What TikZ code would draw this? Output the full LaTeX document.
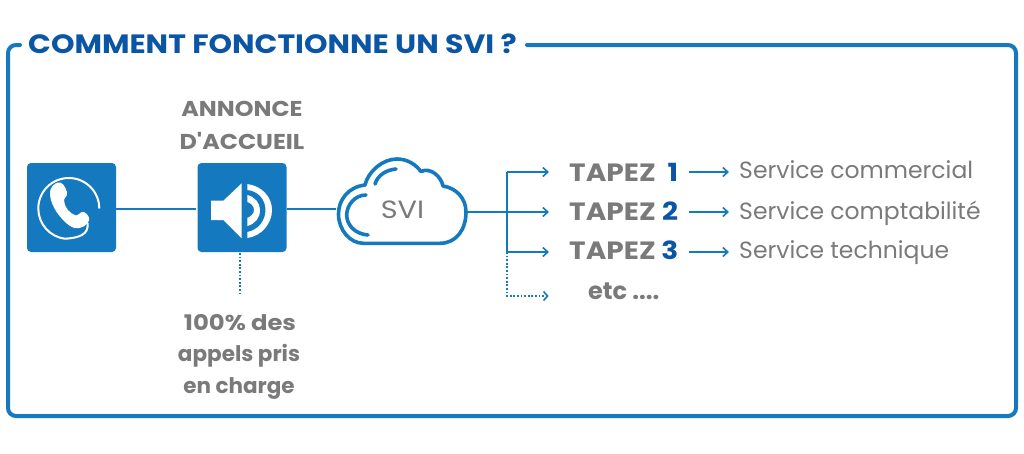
\documentclass[tikz,border=0pt]{standalone}
\usepackage{fontspec}
\setmainfont{Poppins}[Ligatures=TeXOff]
\usetikzlibrary{arrows.meta}
\definecolor{bl}{HTML}{1479BF}
\definecolor{tb}{HTML}{0B55A5}
\definecolor{gr}{HTML}{7A7A7A}
\newcommand{\wid}[1]{\addfontfeature{FakeStretch=#1}}
\newcommand{\tapline}[1]{\makebox[92pt][l]{\wid{1.12}TAPEZ}\makebox[17pt][r]{\textcolor{tb}{\wid{1.12}#1}}}
\tikzset{
 x=1pt,y=-1pt,
 conn/.style={bl,line width=2.2pt},
 arr/.style={conn,-{Straight Barb[length=5pt,width=9pt,line width=1.6pt]}},
 dot/.style={bl,line width=1.8pt,dash pattern=on 1.8pt off 1.8pt},
 iconbox/.style={fill=bl,rounded corners=4pt,minimum width=89pt,minimum height=89pt,inner sep=0pt,outer sep=0pt,draw=none},
 lab/.style={anchor=base,gr,font=\fontsize{21.5}{24}\selectfont\bfseries,inner sep=0pt},
 tap/.style={anchor=base west,gr,font=\fontsize{25}{26}\selectfont\bfseries,inner sep=0pt},
 svc/.style={anchor=base west,gr,font=\fontsize{23.5}{26}\selectfont,inner sep=0pt},
}
\begin{document}
\begin{tikzpicture}
\useasboundingbox (0,0) rectangle (1024,453);
\fill[white] (0,0) rectangle (1024,453);
% frame
\draw[bl,line width=4pt,rounded corners=8pt,line cap=round] (527,45) -- (1016,45) -- (1016,416) -- (8,416) -- (8,45) -- (20,45);
\node[anchor=base west,tb,inner sep=0pt,font=\fontsize{26.5}{28}\selectfont\bfseries] (title) at (28,53) {\wid{1.13}COMMENT FONCTIONNE UN SVI ?};
% boxes
\node[iconbox] (phone) at (71.5,207.5) {};
\node[iconbox] (spk) at (242,207.5) {};
% phone icon
\draw[white,line width=2pt] (99.3,208.5) arc[start angle=0,end angle=-262,x radius=30.5pt,y radius=-30.5pt] .. controls (80,238) and (89,234) .. (87.5,223);
\fill[white] (50,195) .. controls (49.5,186) and (55,183.5) .. (58,182.5) .. controls (62,181.5) and (65,186) .. (67,192) .. controls (68,196) and (64,198) .. (64,200)
 .. controls (64,207) and (70,214) .. (76,215.5) .. controls (79,215) and (81,211) .. (84,212) .. controls (88,214) and (91,219) .. (88,222.5)
 .. controls (83,229) and (75,230) .. (70,226) .. controls (60,219) and (51,206) .. (50,195) -- cycle;
% speaker icon
\fill[white] (211,200.7) -- (223.3,200.7) -- (241.7,183.3) -- (241.7,238.3) -- (223.3,220) -- (211,220) -- cycle;
\fill[white] (247.3,184) .. controls (262,186) and (272,197) .. (272,210) .. controls (272,223) and (262,236) .. (247.3,238) -- (247.3,232) .. controls (258,230) and (265.5,221) .. (265.5,210) .. controls (265.5,199) and (258,191) .. (247.3,190) -- cycle;
\fill[white] (247.3,195) .. controls (255,197) and (260,203) .. (260,210) .. controls (260,218) and (255,224) .. (247.3,226) -- (247.3,218) .. controls (251,216) and (254,214) .. (254,210) .. controls (254,206) and (251,203) .. (247.3,202) -- cycle;
% cloud
\node[inner sep=0pt,minimum width=130pt,minimum height=86pt] (cloud) at (402,205) {};
\draw[bl,line width=3.6pt,line join=round] (363.3,243.3) -- (440,243.3) .. controls (456,243.3) and (466,230) .. (466,212) .. controls (466,198) and (456,188) .. (443,186)
 .. controls (441,176) and (430,167) .. (421,171.5) .. controls (413,161) and (403,159) .. (397,159) .. controls (382,159) and (368,172) .. (365,185)
 .. controls (348,187) and (338.5,200) .. (338.5,214) .. controls (338.5,230) and (350,243.3) .. (363.3,243.3) -- cycle;
\draw[bl,line width=3.6pt,line cap=round] (366,195) .. controls (355,195) and (346.7,205) .. (346.7,215) .. controls (346.7,225) and (355,234) .. (368,235);
\draw[bl,line width=3.6pt,line cap=round] (375,184) .. controls (378,175) and (386,170) .. (396,169);
\node[anchor=base,gr,inner sep=0pt,font=\fontsize{25}{28}\selectfont] (svi) at (402.5,218) {\wid{1.15}SVI};
% labels
\node[lab] (a1) at (242,116) {\wid{1.11}ANNONCE};
\node[lab] (a2) at (242,149) {\wid{1.11}D'ACCUEIL};
\node[lab] (b1) at (240,330) {\wid{1.13}100\% des};
\node[lab] (b2) at (239,361) {appels pris};
\node[lab] (b3) at (239,393) {en charge};
% options
\node[tap] (t1) at (569,181) {\tapline{1}};
\node[tap] (t2) at (569,220) {\tapline{2}};
\node[tap] (t3) at (569,259) {\tapline{3}};
\node[tap,font=\fontsize{24}{26}\selectfont\bfseries] (t4) at (588,299) {etc ....};
\node[svc] (s1) at (739,178.5) {Service commercial};
\node[svc] (s2) at (739,219) {Service comptabilité};
\node[svc] (s3) at (739,258) {Service technique};
% connectors
\coordinate (j1) at (507,172);
\coordinate (j2) at (507,212);
\coordinate (j3) at (507,252);
\coordinate (j4) at (507,296);
\coordinate (e1) at (549,172);
\coordinate (e2) at (549,212);
\coordinate (e3) at (549,252);
\coordinate (e4) at (547,296);
\coordinate (f1) at (689,172);
\coordinate (f2) at (689,212);
\coordinate (f3) at (689,252);
\coordinate (g1) at (729,172);
\coordinate (g2) at (729,212);
\coordinate (g3) at (729,252);
\coordinate (cl) at (336,209);
\coordinate (cr) at (467,212);
\coordinate (sb) at (240,295);
\coordinate (st) at (240,253);
\draw[conn] (phone.east |- 0,209) -- (196,209);
\draw[conn] (spk.east |- 0,209) -- (cl);
\draw[dot] (st) -- (sb);
\draw[conn] (j1) -- (j3);
\draw[arr] (j1) -- (e1);
\draw[arr] (cr) -- (e2);
\draw[arr] (j3) -- (e3);
\draw[dot] (j3) -- (j4) -- (e4);
\draw[bl,line width=1.6pt] (543.5,291.5) -- (547.5,296) -- (543.5,300.5);
\draw[arr] (f1) -- (g1);
\draw[arr] (f2) -- (g2);
\draw[arr] (f3) -- (g3);
\end{tikzpicture}
\end{document}
